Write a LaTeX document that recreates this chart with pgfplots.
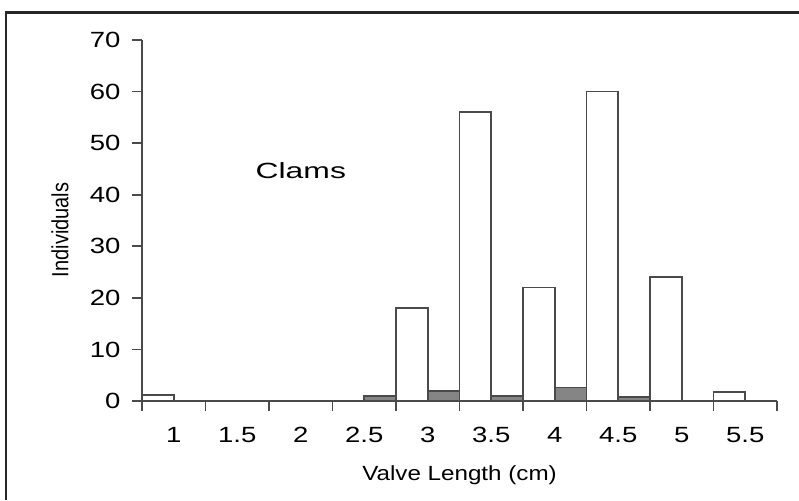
\documentclass[border=0pt]{standalone}
\usepackage{pgfplots}
\pgfplotsset{compat=1.18}
\usepackage{fontspec}
\setmainfont{Liberation Sans}
\definecolor{ln}{HTML}{4A4A4A}
\definecolor{gf}{HTML}{858585}
\newcommand\sx[1]{\scalebox{1.25}[1]{#1}}
\begin{document}
\begin{tikzpicture}
\useasboundingbox (0,0) rectangle (799pt,500pt);
\fill[white] (0,0) rectangle (799pt,500pt);
\draw[line width=2.6pt, black!85] (6pt,0) -- (6pt,487.3pt) -- (799pt,487.3pt);
\begin{axis}[
 at={(142pt,99pt)}, anchor=south west,
 scale only axis, width=635pt, height=361pt,
 xmin=0, xmax=10, ymin=0, ymax=70,
 axis lines=left, axis line style={-, line width=1.8pt, ln},
 tick align=outside, major tick length=10pt,
 tick style={line width=1.8pt, ln},
 xtick={0,...,10}, x tick label as interval,
 xticklabels={\sx{1},\sx{1.5},\sx{2},\sx{2.5},\sx{3},\sx{3.5},\sx{4},\sx{4.5},\sx{5},\sx{5.5}},
 ytick={0,10,...,70},
 yticklabel={\sx{\pgfmathprintnumber[assume math mode=true]{\tick}}},
 tick label style={font=\fontsize{22}{26}\selectfont},
 xticklabel style={yshift=-13pt},
 yticklabel style={xshift=-8pt},
 xlabel={\scalebox{1.18}[1]{Valve Length (cm)}},
 xlabel style={at={(axis description cs:0.5,-0.205)}, anchor=center, font=\fontsize{20.5}{24}\selectfont},
 ylabel={\scalebox{1}[1.17]{Individuals}},
 ylabel style={at={(axis description cs:-0.129,0.474)}, anchor=center, font=\fontsize{20}{24}\selectfont},
]
\addplot[ybar, bar width=0.5, bar shift=0pt, draw=ln, line width=1.8pt, fill=white]
 coordinates {(0.25,1.2) (4.25,18) (5.25,56) (6.25,22) (7.25,60) (8.25,24) (9.25,1.8)};
\addplot[ybar, bar width=0.5, bar shift=0pt, draw=ln, line width=1.8pt, fill=gf]
 coordinates {(3.75,1) (4.75,2) (5.75,0.9) (6.75,2.6) (7.75,0.8)};
\end{axis}
\node[font=\fontsize{22}{26}\selectfont] at (300.8pt,329pt) {\scalebox{1.45}[1]{Clams}};
\end{tikzpicture}
\end{document}
